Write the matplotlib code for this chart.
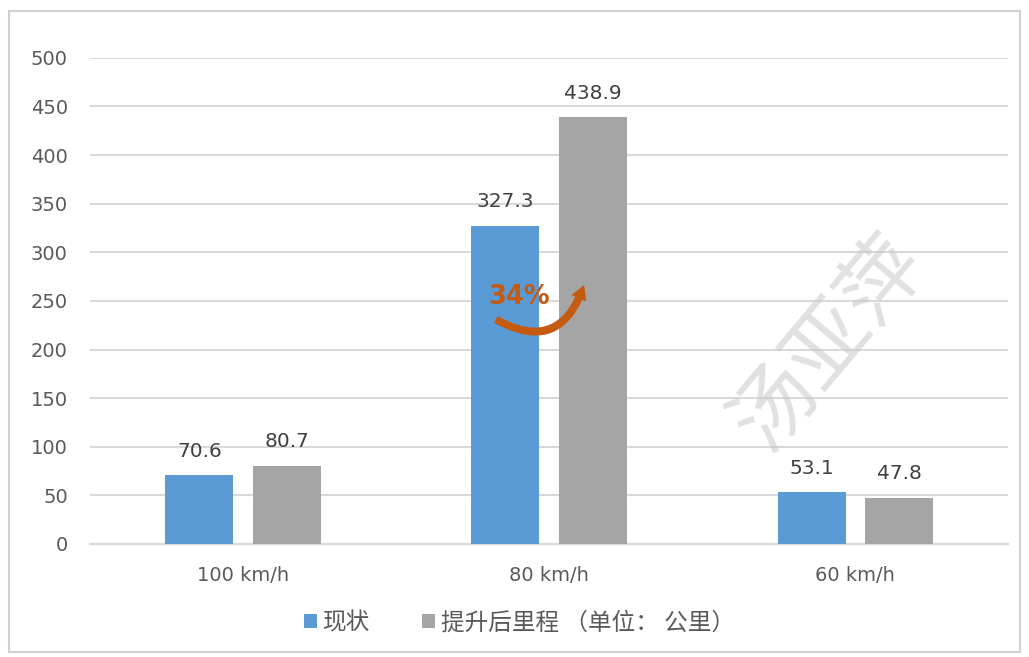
import matplotlib.pyplot as plt
from matplotlib.patches import FancyArrowPatch, Rectangle

plt.rcParams['font.family'] = ['DejaVu Sans', 'Noto Sans CJK SC']

categories = ['100 km/h', '80 km/h', '60 km/h']
current = [70.6, 327.3, 53.1]
improved = [80.7, 438.9, 47.8]
series_names = ['现状', '提升后里程 （单位： 公里）']
y_ticks = [0, 50, 100, 150, 200, 250, 300, 350, 400, 450, 500]

BLUE = '#5B9BD5'
GRAY = '#A5A5A5'
ORANGE = '#C55A11'
GRID = '#D9D9D9'

fig = plt.figure(figsize=(10.29, 6.57), dpi=100)
ax = fig.add_axes([0.0875, 0.172, 0.8925, 0.74])

# light frame round the whole chart
fig.patches.append(Rectangle((0.009, 0.008), 0.982, 0.976, transform=fig.transFigure,
                             fill=False, edgecolor='#D0D0D0', linewidth=1.5))

x = range(len(categories))
width = 0.222
offset = 0.143
bars_a = ax.bar([i - offset for i in x], current, width, color=BLUE, label=series_names[0], zorder=3)
bars_b = ax.bar([i + offset for i in x], improved, width, color=GRAY, label=series_names[1], zorder=3)

for bars in (bars_a, bars_b):
    for b in bars:
        ax.text(b.get_x() + b.get_width() / 2, b.get_height() + 15, f'{b.get_height():.1f}',
                ha='center', va='bottom', fontsize=14.5, color='#404040', zorder=5)

ax.set_xlim(-0.5, 2.5)
ax.set_ylim(0, 500)
ax.set_yticks(y_ticks)
ax.set_xticks(list(x))
ax.set_xticklabels(categories)
ax.tick_params(axis='both', length=0, labelsize=14, labelcolor='#595959')
ax.tick_params(axis='y', pad=16)
ax.tick_params(axis='x', pad=16)
ax.yaxis.grid(True, color=GRID, linewidth=1.5, zorder=0)
for side in ('top', 'right', 'left'):
    ax.spines[side].set_visible(False)
ax.spines['bottom'].set_color(GRID)
ax.spines['bottom'].set_linewidth(1.5)

# growth annotation on the 80 km/h group
ax.add_patch(FancyArrowPatch((0.82, 232), (1.115, 268), connectionstyle='arc3,rad=0.62',
                             arrowstyle='simple,head_width=10,head_length=9,tail_width=4.5',
                             color=ORANGE, zorder=6))
ax.text(0.90, 254, '34%', ha='center', va='center', fontsize=18.5, fontweight='bold',
        color=ORANGE, zorder=6)

# watermark
fig.text(0.805, 0.478, '汤亚萍', fontsize=60, rotation=50, ha='center', va='center',
         color='#C8C8C8', alpha=0.55, family=['Noto Sans CJK SC'], zorder=10)

leg = ax.legend(loc='upper center', bbox_to_anchor=(0.468, -0.095), ncol=2, frameon=False,
                handlelength=0.55, handleheight=0.55, handletextpad=0.25,
                columnspacing=2.2, prop={'family': ['Noto Sans CJK SC'], 'size': 17})
for t in leg.get_texts():
    t.set_color('#595959')

fig.savefig('out.png', dpi=100)
